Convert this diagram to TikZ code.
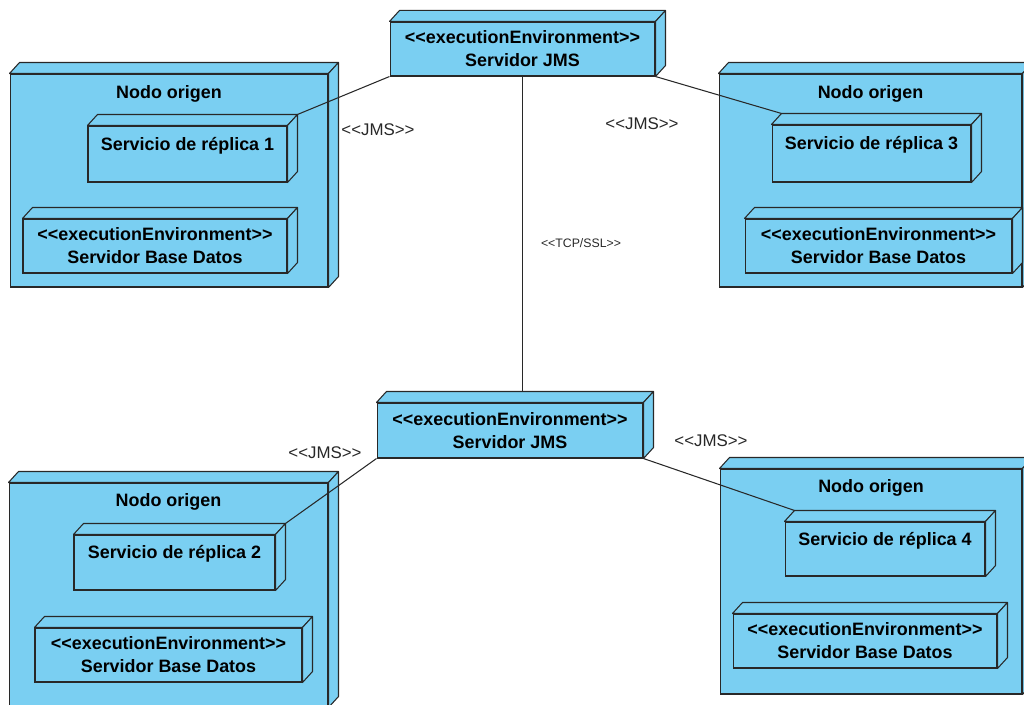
\documentclass[tikz,border=0pt]{standalone}
\usepackage{fontspec}
\setmainfont{Liberation Sans}
\usetikzlibrary{calc, positioning}

\definecolor{azul}{RGB}{122,207,242}
\definecolor{linea}{RGB}{40,40,40}

% estereotipo sin ligaduras
\newcommand{\estereo}[1]{<{}<#1>{}>}

% caras 3D (arriba y derecha) de un nodo UML
\newcommand{\caras}[1]{%
  \coordinate (#1-nw) at ($(#1.north west)+(10,-11)$);
  \coordinate (#1-ne) at ($(#1.north east)+(10,-11)$);
  \coordinate (#1-se) at ($(#1.south east)+(10,-11)$);
  \draw[cara] (#1.north west) -- (#1-nw) -- (#1-ne) -- (#1.north east) -- cycle;
  \draw[cara] (#1.north east) -- (#1-ne) -- (#1-se) -- (#1.south east) -- cycle;
}

\begin{document}
\begin{tikzpicture}[
  x=0.02cm,
  y=-0.02cm,
  origen/.style={draw=linea, fill=azul, line width=0.6pt, inner sep=0pt},
  caja/.style={origen, font=\bfseries\fontsize{10.2}{13}\selectfont, align=center},
  titulo/.style={inner sep=0pt, font=\bfseries\fontsize{10.2}{13}\selectfont},
  cara/.style={draw=linea, fill=azul, line width=0.6pt, line join=round},
  conector/.style={draw=linea, line width=0.6pt},
  etiq/.style={inner sep=0pt, text=linea, font=\fontsize{9.6}{11}\selectfont},
  etiqchica/.style={etiq, font=\fontsize{7}{8}\selectfont}
  ]
    \clip (0,0) rectangle (1024,705);

    % Servidores JMS
    \node[caja, minimum width=5.3cm, minimum height=1.08cm] (j1) at (522.5,49)
      {\estereo{executionEnvironment}\\Servidor JMS};
    \caras{j1}
    \node[caja, minimum width=5.32cm, minimum height=1.1cm] (j2) at (510,430.5)
      {\estereo{executionEnvironment}\\Servidor JMS};
    \caras{j2}

%nodo 1 (arriba izq)
    \node[origen, minimum width=6.36cm, minimum height=4.26cm] (o1) at (169,180.5) {};
    \caras{o1}
    \node[titulo, below=6.5pt of o1.north] (t1) {Nodo origen};
    \node[caja, minimum width=3.98cm, minimum height=1.12cm] (s1) at (187.5,154)
      {Servicio de réplica 1\\[-1pt]~};
    \caras{s1}
    \node[caja, minimum width=5.28cm, minimum height=1.08cm] (b1) at (155,246)
      {\estereo{executionEnvironment}\\Servidor Base Datos};
    \caras{b1}

%nodo 3 (arriba der)
    \node[origen, minimum width=6.06cm, minimum height=4.26cm] (o3) at (870.5,180.5) {};
    \caras{o3}
    \node[titulo, below=6.5pt of o3.north] (t3) {Nodo origen};
    \node[caja, minimum width=3.98cm, minimum height=1.14cm] (s3) at (871.5,153.5)
      {Servicio de réplica 3\\[-1pt]~};
    \caras{s3}
    \node[caja, minimum width=5.34cm, minimum height=1.08cm] (b3) at (878.5,246)
      {\estereo{executionEnvironment}\\Servidor Base Datos};
    \caras{b3}

%nodo 2 (abajo izq)
    \node[origen, minimum width=6.38cm, minimum height=4.48cm] (o2) at (168.5,595) {};
    \caras{o2}
    \node[titulo, below=6pt of o2.north] (t2) {Nodo origen};
    \node[caja, minimum width=4.02cm, minimum height=1.1cm] (s2) at (174.5,562.5)
      {Servicio de réplica 2\\[-1pt]~};
    \caras{s2}
    \node[caja, minimum width=5.34cm, minimum height=1.08cm] (b2) at (168.5,655)
      {\estereo{executionEnvironment}\\Servidor Base Datos};
    \caras{b2}

%nodo 4 (abajo der)
    \node[origen, minimum width=6.04cm, minimum height=4.5cm] (o4) at (871,581.5) {};
    \caras{o4}
    \node[titulo, below=6pt of o4.north] (t4) {Nodo origen};
    \node[caja, minimum width=4cm, minimum height=1.08cm] (s4) at (885,549)
      {Servicio de réplica 4\\[-1pt]~};
    \caras{s4}
    \node[caja, minimum width=5.28cm, minimum height=1.08cm] (b4) at (865,641)
      {\estereo{executionEnvironment}\\Servidor Base Datos};
    \caras{b4}

    % conexiones
    \draw[conector] (j1.south west) -- (s1-ne);
    \draw[conector] (j1.south east) -- (s3-nw);
    \draw[conector] (j1.south) -- (j1.south |- j2-nw);
    \draw[conector] (j2.south west) -- (s2-ne);
    \draw[conector] (j2.south east) -- (s4-nw);

    \node[etiq] (l1) at (378,130) {\estereo{JMS}};
    \node[etiq] (l3) at (642,124) {\estereo{JMS}};
    \node[etiq] (l2) at (325,453) {\estereo{JMS}};
    \node[etiq] (l4) at (711,441) {\estereo{JMS}};
    \node[etiqchica] (l5) at (581,243) {\estereo{TCP/SSL}};

\end{tikzpicture}
\end{document}
